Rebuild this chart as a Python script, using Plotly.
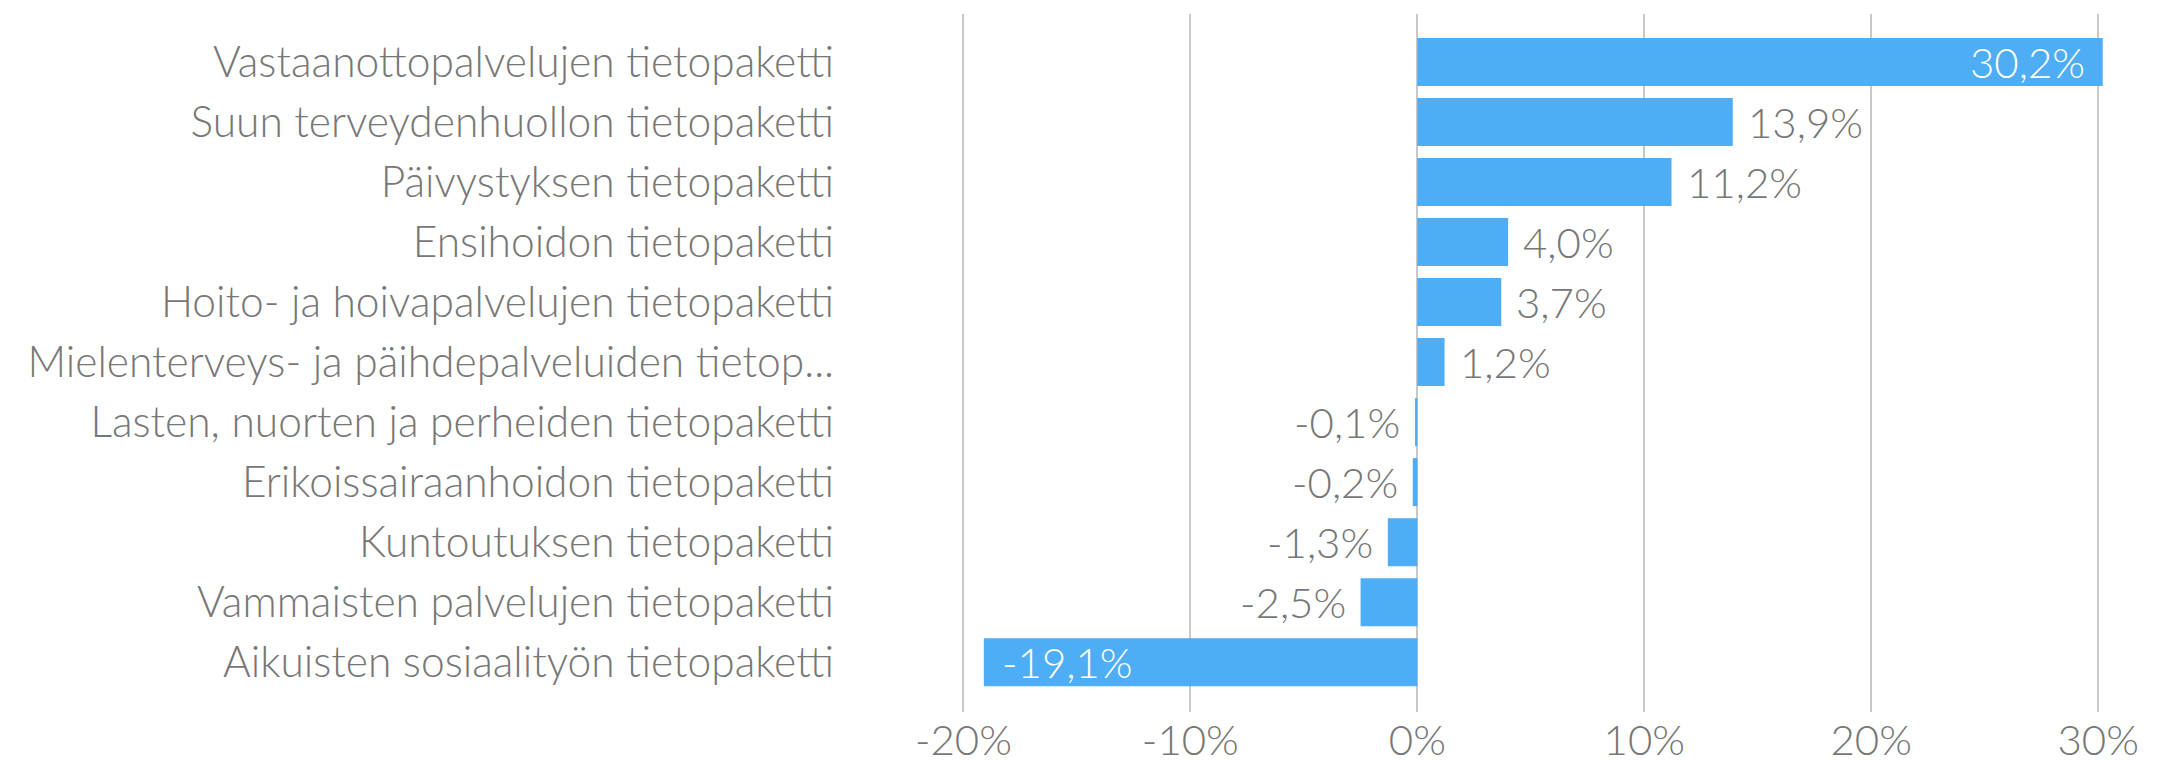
import plotly.graph_objects as go

categories = [
    "Vastaanottopalvelujen tietopaketti",
    "Suun terveydenhuollon tietopaketti",
    "Päivystyksen tietopaketti",
    "Ensihoidon tietopaketti",
    "Hoito- ja hoivapalvelujen tietopaketti",
    "Mielenterveys- ja päihdepalveluiden tietop...",
    "Lasten, nuorten ja perheiden tietopaketti",
    "Erikoissairaanhoidon tietopaketti",
    "Kuntoutuksen tietopaketti",
    "Vammaisten palvelujen tietopaketti",
    "Aikuisten sosiaalityön tietopaketti",
]
values = [30.2, 13.9, 11.2, 4.0, 3.7, 1.2, -0.1, -0.2, -1.3, -2.5, -19.1]
inside_labels = [True, False, False, False, False, False, False, False, False, False, True]
tick_vals = [-20, -10, 0, 10, 20, 30]
tick_text = ["-20%", "-10%", "0%", "10%", "20%", "30%"]

BAR = "#4EADF4"
TXT = "#777777"
FONT = "Lato"
FS_CAT = 42.5
FS_NUM = 42
FW = 300

def fmt(v):
    return f"{v:.1f}".replace(".", ",") + "%"

fig = go.Figure(go.Bar(
    x=values, y=categories, orientation="h",
    marker=dict(color=BAR, line=dict(width=0)),
    hoverinfo="skip",
))

for cat, v, ins in zip(categories, values, inside_labels):
    if ins:
        anchor = "right" if v > 0 else "left"
        shift = -16 if v > 0 else 16
        col = "white"
    else:
        anchor = "left" if v > 0 else "right"
        shift = 13 if v > 0 else -13
        col = TXT
    fig.add_annotation(x=v, y=cat, text=fmt(v), showarrow=False,
                       xanchor=anchor, yanchor="middle", xshift=shift,
                       font=dict(family=FONT, size=FS_NUM, color=col, weight=FW))

fig.update_layout(
    width=2182, height=763,
    margin=dict(l=960, r=77, t=14, b=51, autoexpand=False),
    plot_bgcolor="white", paper_bgcolor="white",
    bargap=0.2, showlegend=False,
    font=dict(family=FONT, size=FS_NUM, color=TXT, weight=FW),
)
fig.update_xaxes(range=[-20.15, 30.3], tickvals=tick_vals, ticktext=tick_text,
                 showgrid=True, gridcolor="#C8C8C8", gridwidth=1.5,
                 zeroline=False, showline=False, ticks="", ticklen=0, automargin=False,
                 ticklabelstandoff=0,
                 tickfont=dict(family=FONT, size=FS_NUM, color=TXT, weight=FW))
fig.update_yaxes(type="category", categoryorder="array", categoryarray=categories,
                 range=[10.83, -0.8], showgrid=False, zeroline=False,
                 showline=False, ticks="", automargin=False, ticklabelstandoff=125,
                 tickfont=dict(family=FONT, size=FS_CAT, color=TXT, weight=FW))

fig.write_html("out.html", config={"displayModeBar": False},
               post_script="document.body.style.margin='0';")
